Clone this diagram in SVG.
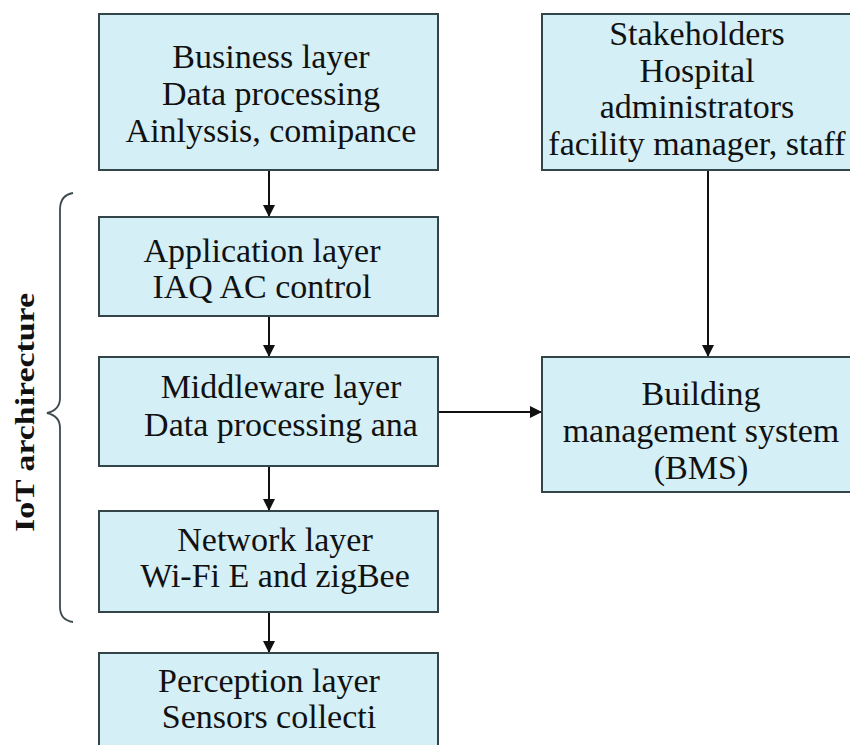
<svg xmlns="http://www.w3.org/2000/svg" width="850" height="745" viewBox="0 0 850 745">
<defs>
<style>
.box{fill:#d5eff6;stroke:#34454a;stroke-width:2}
.t{font-family:"Liberation Serif","DejaVu Serif",serif;font-size:34px;fill:#111;text-anchor:middle}
.lab{font-family:"Liberation Serif","DejaVu Serif",serif;font-size:28px;font-weight:bold;fill:#111;text-anchor:middle}
.conn{stroke:#111;stroke-width:2;fill:none;marker-end:url(#ah)}
.brace{stroke:#3c4a4e;stroke-width:1.8;fill:none}
</style>
<marker id="ah" viewBox="0 0 10 10" refX="10" refY="5" markerWidth="13" markerHeight="12" markerUnits="userSpaceOnUse" orient="auto">
<path d="M0,0 L10,5 L0,10 z" fill="#111"/>
</marker>
</defs>
<rect width="850" height="745" fill="#fff"/>
<g id="connectors">
<line class="conn" x1="269" y1="170" x2="269" y2="217"/>
<line class="conn" x1="269" y1="316" x2="269" y2="357"/>
<line class="conn" x1="269" y1="466" x2="269" y2="511"/>
<line class="conn" x1="269" y1="612" x2="269" y2="653"/>
<line class="conn" x1="708" y1="170" x2="708" y2="357"/>
<line class="conn" x1="438" y1="412" x2="542" y2="412"/>
</g>
<g id="business">
<rect class="box" x="99" y="14" width="339" height="156"/>
<text class="t" x="271" y="68">Business layer</text>
<text class="t" x="271" y="105">Data processing</text>
<text class="t" x="271" y="142">Ainlyssis, comipance</text>
</g>
<g id="stakeholders">
<rect class="box" x="542" y="14" width="320" height="156"/>
<text class="t" x="697" y="45">Stakeholders</text>
<text class="t" x="697" y="82">Hospital</text>
<text class="t" x="697" y="118">administrators</text>
<text class="t" x="697" y="155">facility manager, staff</text>
</g>
<g id="application">
<rect class="box" x="99" y="217" width="339" height="99"/>
<text class="t" x="262" y="262">Application layer</text>
<text class="t" x="262" y="298">IAQ AC control</text>
</g>
<g id="middleware">
<rect class="box" x="99" y="357" width="339" height="109"/>
<text class="t" x="281" y="398">Middleware layer</text>
<text class="t" x="281" y="436">Data processing ana</text>
</g>
<g id="network">
<rect class="box" x="99" y="511" width="339" height="101"/>
<text class="t" x="275" y="551">Network layer</text>
<text class="t" x="275" y="587">Wi-Fi E and zigBee</text>
</g>
<g id="perception">
<rect class="box" x="99" y="653" width="339" height="110"/>
<text class="t" x="269" y="692">Perception layer</text>
<text class="t" x="269" y="728">Sensors collecti</text>
</g>
<g id="bms">
<rect class="box" x="542" y="357" width="320" height="135"/>
<text class="t" x="701" y="405">Building</text>
<text class="t" x="701" y="442">management system</text>
<text class="t" x="701" y="479">(BMS)</text>
</g>
<g id="iot-label">
<path class="brace" d="M73,193 Q60,195 60,210 L60,398 Q60,410 47,413 Q60,416 60,428 L60,607 Q60,620 73,622"/>
<text class="lab" transform="translate(34,412.5) rotate(-90)" textLength="239" lengthAdjust="spacingAndGlyphs">IoT archirecture</text>
</g>
</svg>
